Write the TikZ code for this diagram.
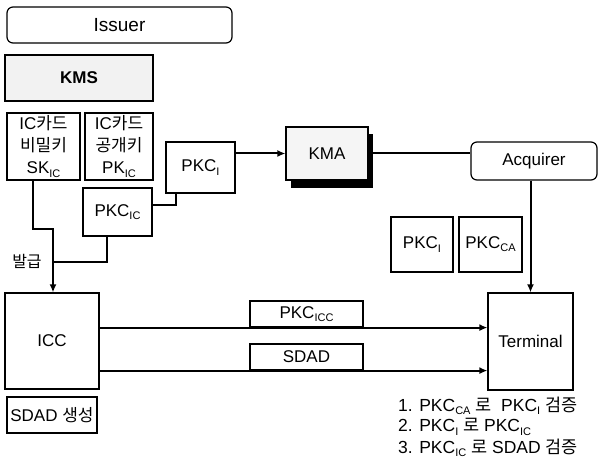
\documentclass[tikz,border=0pt]{standalone}
\usepackage{fontspec}
\setmainfont{Liberation Sans}
\newfontfamily\kr{Noto Sans CJK KR}
\usetikzlibrary{arrows.meta}
\newcommand\sub[1]{\raisebox{-0.35ex}{\fontsize{11}{11}\selectfont #1}}
\begin{document}
\begin{tikzpicture}[x=1pt,y=-1pt,
  box/.style={draw, line width=1.2pt, inner sep=0pt, align=center, font=\fontsize{17}{22}\selectfont},
  rbox/.style={box, rounded corners=6pt},
  shade/.style={fill=black!5},
  conn/.style={line width=2pt},
  arr/.style={conn, -{Latex[length=8pt,width=7pt]}},
  note/.style={anchor=west, inner sep=0pt, font=\fontsize{17.5}{20}\selectfont}]
\useasboundingbox (0,0) rectangle (598,462);
% top
\node[rbox, minimum width=225, minimum height=36, font=\fontsize{19}{22}\selectfont] (issuer) at (119.5,25) {Issuer};
\node[box, shade, minimum width=148, minimum height=46, font=\fontsize{17}{22}\selectfont\bfseries] (kms) at (79,78) {KMS};
\node[box, minimum width=73, minimum height=67] (sk) at (43.5,146.5) {IC{\kr 카드}\\{\kr 비밀키}\\SK\sub{IC}};
\node[box, minimum width=68, minimum height=67] (pk) at (119,146.5) {IC{\kr 카드}\\{\kr 공개키}\\PK\sub{IC}};
\node[box, minimum width=69, minimum height=51] (pkci) at (200.5,167.5) {PKC\sub{I}};
\node[box, minimum width=69, minimum height=48] (pkcic) at (117.5,212) {PKC\sub{IC}};
% KMA with shadow
\fill (291,134) rectangle (373,188);
\node[box, minimum width=82, minimum height=53, fill=black!4] (kma) at (327,153.5) {KMA};
\node[rbox, minimum width=126, minimum height=38] (acq) at (534,161) {Acquirer};
\node[box, minimum width=62, minimum height=55] (pkci2) at (422,244.5) {PKC\sub{I}};
\node[box, minimum width=63, minimum height=55] (pkcca) at (490.5,244.5) {PKC\sub{CA}};
% bottom
\node[box, minimum width=94, minimum height=96] (icc) at (52,341) {ICC};
\node[box, minimum width=90, minimum height=36] (sdadgen) at (52,415) {SDAD {\kr 생성}};
\node[box, minimum width=85, minimum height=97] (term) at (530.5,341.5) {Terminal};
\node[box, minimum width=113, minimum height=26] (pkcicc) at (306.5,314) {PKC\sub{ICC}};
\node[box, minimum width=113, minimum height=26] (sdad) at (306.5,357) {SDAD};
\node[inner sep=0pt, font=\kr\fontsize{16}{18}\selectfont] (issue) at (27,261) {발급};
% junctions
\coordinate (j1) at (53,229);
\coordinate (j2) at (53,262);
% connectors
\draw[conn] ([xshift=-10.5pt]sk.south) |- (j1) -- (j2);
\draw[arr] (j2) -- (j2 |- icc.north);
\draw[conn] ([xshift=-10.5pt]pkcic.south) |- (j2);
\draw[conn] ([yshift=7pt]pkcic.east) -| ([xshift=-24.5pt]pkci.south);
\draw[arr] (kma.west -| pkci.east) -- (kma.west);
\draw[conn] (kma.east) -- (kma.east -| acq.west);
\draw[arr] (term.north |- acq.south) -- (term.north);
\draw[arr] (icc.east |- pkcicc.south) -- (term.west |- pkcicc.south);
\draw[arr] (icc.east |- sdad.south) -- (term.west |- sdad.south);
% notes
\node[note] (n1) at (398,406) {1. PKC\sub{CA} {\kr 로}~~PKC\sub{I} {\kr 검증}};
\node[note] (n2) at (398,427) {2. PKC\sub{I} {\kr 로} PKC\sub{IC}};
\node[note] (n3) at (398,448) {3. PKC\sub{IC} {\kr 로} SDAD {\kr 검증}};
\end{tikzpicture}
\end{document}
